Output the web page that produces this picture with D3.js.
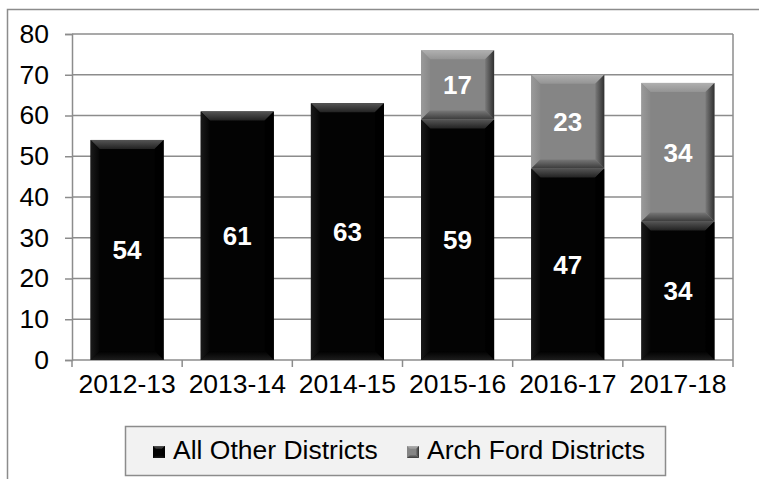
<!DOCTYPE html>
<html><head><meta charset="utf-8">
<script src="https://cdn.jsdelivr.net/npm/d3@7"></script>
<style>body{margin:0;background:#fff;}svg{display:block;font-family:"Liberation Sans",Arial,sans-serif;}</style>
</head><body>
<svg id="c" width="759" height="479"></svg>
<script>
const categories = ["2012-13","2013-14","2014-15","2015-16","2016-17","2017-18"];
const allOther = [54,61,63,59,47,34];
const archFord = [0,0,0,17,23,34];
const seriesNames = ["All Other Districts","Arch Ford Districts"];
const yTicks = [0,10,20,30,40,50,60,70,80];

const FONT = "Liberation Sans, Arial, sans-serif";
const FS = 26.5;
const svg = d3.select("#c");
const m = {l:72, r:733, t:34, b:360};
const x = d3.scaleBand().domain(categories).range([m.l,m.r]).paddingInner(0.337).paddingOuter(0.1685);
const y = d3.scaleLinear().domain([0,80]).range([m.b,m.t]);

// outer frame
svg.append("rect").attr("x",7.5).attr("y",9.5).attr("width",800).attr("height",600)
  .attr("fill","none").attr("stroke","#8c8c8c").attr("stroke-width",1.5);

// gridlines
svg.append("g").selectAll("line").data(yTicks.filter(d=>d>0)).join("line")
  .attr("x1",m.l).attr("x2",m.r).attr("y1",d=>y(d)).attr("y2",d=>y(d))
  .attr("stroke","#8c8c8c").attr("stroke-width",1.5);
svg.append("line").attr("x1",m.r).attr("x2",m.r).attr("y1",m.t).attr("y2",m.b)
  .attr("stroke","#8c8c8c").attr("stroke-width",1.5);

// axes
const yAxis = d3.axisLeft(y).tickValues(yTicks).tickSize(7).tickPadding(16);
const gy = svg.append("g").attr("transform",`translate(${m.l},0)`).call(yAxis)
  .attr("font-size",FS).attr("font-family",FONT);
gy.select(".domain").attr("stroke","#8c8c8c").attr("stroke-width",1.5);
gy.selectAll(".tick line").attr("stroke","#8c8c8c").attr("stroke-width",1.5);
gy.selectAll("text").attr("fill","#000");

const xAxis = d3.axisBottom(x).tickSize(0).tickPadding(14);
const gx = svg.append("g").attr("transform",`translate(0,${m.b})`).call(xAxis)
  .attr("font-size",FS).attr("font-family",FONT);
gx.select(".domain").remove();
gx.selectAll("text").attr("fill","#000");
svg.append("line").attr("x1",m.l).attr("x2",m.r).attr("y1",m.b).attr("y2",m.b).attr("stroke","#8c8c8c").attr("stroke-width",1.5);
const step = x.step();
svg.append("g").selectAll("line").data(d3.range(categories.length+1)).join("line")
  .attr("x1",i=>m.l+i*step).attr("x2",i=>m.l+i*step).attr("y1",m.b).attr("y2",m.b+7)
  .attr("stroke","#8c8c8c").attr("stroke-width",1.5);

// gradients
const defs = svg.append("defs");
function grad(id, x1,y1,x2,y2, stops){
  const g = defs.append("linearGradient").attr("id",id).attr("x1",x1).attr("y1",y1).attr("x2",x2).attr("y2",y2);
  stops.forEach(s=>g.append("stop").attr("offset",s[0]).attr("stop-color",s[1]));
}
const palettes = [
  {base:"#030303", top:["#555","#222"], left:["#1a1a1a","#050505"], right:["#000","#000"], bottom:["#000","#1c1c1c"]},
  {base:"#858585", top:["#b0b0b0","#949494"], left:["#9a9a9a","#888"], right:["#7a7a7a","#303030"], bottom:["#777","#3a3a3a"]}
];
palettes.forEach((p,i)=>{
  grad("t"+i,0,0,0,1,[[0,p.top[0]],[1,p.top[1]]]);
  grad("l"+i,0,0,1,0,[[0,p.left[0]],[1,p.left[1]]]);
  grad("r"+i,0,0,1,0,[[0,p.right[0]],[1,p.right[1]]]);
  grad("b"+i,0,0,0,1,[[0,p.bottom[0]],[1,p.bottom[1]]]);
});

const rows = categories.map((c,i)=>({cat:c, a:allOther[i], b:archFord[i]}));
const stack = d3.stack().keys(["a","b"])(rows);

stack.forEach((layer,si)=>{
  const g = svg.append("g");
  layer.forEach(d=>{
    if(d[1]-d[0]<=0) return;
    const x0 = x(d.data.cat), w = x.bandwidth();
    const y0 = y(d[1]), h = y(d[0])-y(d[1]);
    const bv = Math.min(9, h/2, w/2);
    const x1 = x0+w, y1 = y0+h;
    g.append("rect").attr("x",x0).attr("y",y0).attr("width",w).attr("height",h).attr("fill",palettes[si].base);
    g.append("path").attr("d",`M${x0},${y0}L${x1},${y0}L${x1-bv},${y0+bv}L${x0+bv},${y0+bv}Z`).attr("fill",`url(#t${si})`);
    g.append("path").attr("d",`M${x0},${y0}L${x0+bv},${y0+bv}L${x0+bv},${y1-bv}L${x0},${y1}Z`).attr("fill",`url(#l${si})`);
    g.append("path").attr("d",`M${x1},${y0}L${x1},${y1}L${x1-bv},${y1-bv}L${x1-bv},${y0+bv}Z`).attr("fill",`url(#r${si})`);
    g.append("path").attr("d",`M${x0},${y1}L${x0+bv},${y1-bv}L${x1-bv},${y1-bv}L${x1},${y1}Z`).attr("fill",`url(#b${si})`);
    g.append("text").attr("x",x0+w/2).attr("y",(y0+y1)/2).attr("dy","0.36em")
      .attr("text-anchor","middle").attr("font-size",26).attr("font-weight","bold").attr("fill","#fff")
      .attr("font-family",FONT).text(d[1]-d[0]);
  });
});

// legend
const lg = svg.append("g").attr("font-family",FONT);
lg.append("rect").attr("x",125.5).attr("y",426.5).attr("width",540).attr("height",49)
  .attr("fill","#f2f2f2").attr("stroke","#8c8c8c").attr("stroke-width",1.5);
const legX = [153, 407];
seriesNames.forEach((n,i)=>{
  const lx = legX[i], ly = 446, s = 12;
  lg.append("rect").attr("x",lx).attr("y",ly).attr("width",s).attr("height",s).attr("fill",palettes[i].base);
  lg.append("path").attr("d",`M${lx},${ly}L${lx+s},${ly}L${lx+s-3},${ly+3}L${lx+3},${ly+3}Z`).attr("fill",`url(#t${i})`);
  lg.append("path").attr("d",`M${lx+s},${ly}L${lx+s},${ly+s}L${lx+s-3},${ly+s-3}L${lx+s-3},${ly+3}Z`).attr("fill",`url(#r${i})`);
  lg.append("path").attr("d",`M${lx},${ly+s}L${lx+3},${ly+s-3}L${lx+s-3},${ly+s-3}L${lx+s},${ly+s}Z`).attr("fill",`url(#b${i})`);
  lg.append("text").attr("x",lx+20).attr("y",459).attr("font-size",FS).attr("fill","#000").text(n);
});
</script>
</body></html>
